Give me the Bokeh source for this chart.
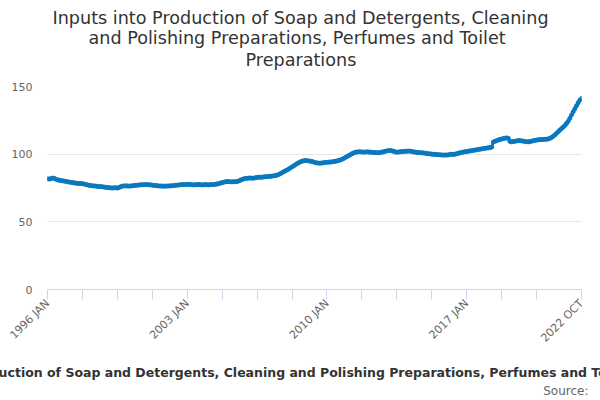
import math
from bokeh.plotting import figure
from bokeh.models import Range1d, FixedTicker, Title, ColumnDataSource
from bokeh.embed import file_html
from bokeh.resources import INLINE

title_lines = ["Inputs into Production of Soap and Detergents, Cleaning",
               "and Polishing Preparations, Perfumes and Toilet",
               "Preparations"]
caption = ("Inputs into Production of Soap and Detergents, Cleaning and Polishing "
           "Preparations, Perfumes and Toilet Preparations")
source_text = "Source:"

month_names = ["JAN", "FEB", "MAR", "APR", "MAY", "JUN",
               "JUL", "AUG", "SEP", "OCT", "NOV", "DEC"]
years = list(range(1996, 2023))

v1996 = [81.8, 81.6, 81.9, 82.3, 82.2, 81.5, 81.0, 80.8, 80.5, 80.3, 80.1, 79.9]
v1997 = [79.6, 79.4, 79.2, 79.0, 78.8, 78.6, 78.4, 78.3, 78.4, 78.2, 77.9, 77.6]
v1998 = [77.3, 77.0, 76.8, 76.6, 76.5, 76.4, 76.2, 76.1, 76.0, 75.9, 75.7, 75.5]
v1999 = [75.3, 75.2, 75.1, 75.0, 75.1, 75.2, 75.0, 75.3, 76.0, 76.4, 76.5, 76.6]
v2000 = [76.5, 76.4, 76.5, 76.6, 76.8, 77.0, 77.1, 77.2, 77.4, 77.3, 77.5, 77.4]
v2001 = [77.5, 77.4, 77.3, 77.1, 76.9, 76.8, 76.7, 76.5, 76.4, 76.5, 76.3, 76.4]
v2002 = [76.4, 76.5, 76.6, 76.7, 76.8, 77.0, 77.1, 77.2, 77.4, 77.6, 77.5, 77.6]
v2003 = [77.7, 77.6, 77.5, 77.4, 77.3, 77.4, 77.5, 77.6, 77.4, 77.3, 77.4, 77.5]
v2004 = [77.4, 77.3, 77.5, 77.6, 77.5, 77.7, 78.0, 78.3, 78.6, 79.0, 79.3, 79.6]
v2005 = [79.8, 79.7, 79.6, 79.5, 79.7, 79.6, 79.8, 80.2, 80.8, 81.3, 81.8, 82.0]
v2006 = [82.2, 82.3, 82.4, 82.2, 82.3, 82.6, 82.8, 83.0, 82.9, 83.0, 83.2, 83.3]
v2007 = [83.4, 83.5, 83.6, 83.8, 84.0, 84.2, 84.5, 85.0, 85.6, 86.3, 87.0, 87.7]
v2008 = [88.3, 89.0, 89.8, 90.6, 91.4, 92.2, 93.0, 93.7, 94.3, 94.8, 95.1, 95.3]
v2009 = [95.2, 95.0, 94.8, 94.6, 94.2, 93.8, 93.5, 93.4, 93.3, 93.5, 93.7, 93.9]
v2010 = [94.0, 94.1, 94.2, 94.3, 94.5, 94.7, 95.0, 95.3, 95.7, 96.2, 96.8, 97.5]
v2011 = [98.2, 98.9, 99.6, 100.3, 100.9, 101.4, 101.6, 101.7, 101.8, 101.6, 101.5, 101.6]
v2012 = [101.7, 101.6, 101.5, 101.4, 101.3, 101.2, 101.1, 101.0, 101.2, 101.5, 101.8, 102.1]
v2013 = [102.4, 102.6, 102.7, 102.5, 102.1, 101.7, 101.5, 101.6, 101.8, 101.9, 102.0, 102.1]
v2014 = [102.2, 102.3, 102.2, 102.0, 101.7, 101.5, 101.3, 101.2, 101.1, 101.0, 100.9, 100.7]
v2015 = [100.5, 100.3, 100.2, 100.0, 99.9, 99.8, 99.7, 99.6, 99.5, 99.4, 99.3, 99.4]
v2016 = [99.3, 99.5, 99.7, 99.9, 99.8, 100.0, 100.3, 100.7, 101.0, 101.3, 101.6, 101.8]
v2017 = [102.0, 102.2, 102.4, 102.6, 102.8, 103.0, 103.2, 103.5, 103.7, 103.9, 104.1, 104.3]
v2018 = [104.5, 104.7, 104.9, 105.2, 109.0, 109.5, 110.0, 110.5, 110.9, 111.2, 111.5, 111.8]
v2019 = [112.0, 111.7, 109.4, 109.1, 109.3, 109.5, 109.8, 110.1, 110.0, 109.8, 109.6, 109.4]
v2020 = [109.2, 109.1, 109.3, 109.6, 109.9, 110.2, 110.4, 110.6, 110.7, 110.8, 110.9, 111.0]
v2021 = [111.0, 111.3, 111.6, 112.4, 113.2, 114.2, 115.4, 116.6, 117.8, 118.9, 120.0, 121.2]
v2022 = [122.7, 124.3, 126.5, 129.0, 131.3, 133.5, 135.8, 138.0, 139.9, 141.1]

y_ticks = [0, 50, 100, 150]
tick_labels = ["1996 JAN", "2003 JAN", "2010 JAN", "2017 JAN", "2022 OCT"]

values = (v1996 + v1997 + v1998 + v1999 + v2000 + v2001 + v2002 + v2003 + v2004
          + v2005 + v2006 + v2007 + v2008 + v2009 + v2010 + v2011 + v2012 + v2013
          + v2014 + v2015 + v2016 + v2017 + v2018 + v2019 + v2020 + v2021 + v2022)
labels = [f"{y} {m}" for y in years for m in month_names][:len(values)]
xs = list(range(len(values)))
n = len(values)

W, H = 600, 400
p = figure(width=W, height=H, output_backend="svg", toolbar_location=None,
           x_range=Range1d(0, n - 1), y_range=Range1d(0, 150),
           min_border_left=47, min_border_right=19, min_border_top=0,
           min_border_bottom=0)
p.outline_line_color = None
p.background_fill_color = "white"
p.border_fill_color = "white"

src = ColumnDataSource(dict(x=xs, y=values, label=labels))
color = "#0a78be"
p.line("x", "y", source=src, line_color=color, line_width=3)
p.scatter("x", "y", source=src, size=4, color=color)

# x axis
ticks = list(range(0, n - 21, 21)) + [n - 1]
p.xaxis.ticker = FixedTicker(ticks=ticks)
p.xaxis.major_label_overrides = {t: (labels[t] if labels[t] in tick_labels else "")
                                 for t in ticks}
p.xaxis.major_label_orientation = math.pi / 4
p.xaxis.axis_line_color = "#ccd6eb"
p.xaxis.major_tick_line_color = "#ccd6eb"
p.xaxis.major_tick_out = 10
p.xaxis.major_tick_in = 0
p.xaxis.minor_tick_line_color = None
p.xaxis.major_label_text_color = "#666666"
p.xaxis.major_label_text_font = "DejaVu Sans"
p.xaxis.major_label_text_font_size = "11px"
p.xaxis.major_label_standoff = 2
p.xgrid.grid_line_color = None

# y axis
p.yaxis.ticker = FixedTicker(ticks=y_ticks)
p.yaxis.axis_line_color = None
p.yaxis.major_tick_line_color = None
p.yaxis.minor_tick_line_color = None
p.yaxis.major_label_text_color = "#666666"
p.yaxis.major_label_text_font = "DejaVu Sans"
p.yaxis.major_label_text_font_size = "11px"
p.yaxis.major_label_standoff = 9
p.ygrid.grid_line_color = "#e6e6e6"


def spacer(stand):
    return Title(text=" ", text_font_size="1px", text_line_height=1.0,
                 standoff=stand, text_color="white")


# above: nearest the frame first
p.add_layout(spacer(11.8), "above")
title_offsets = [5, 41, 198]
title_valign = ["bottom", "top", "top"]
for i in (2, 1, 0):
    p.add_layout(Title(text=title_lines[i], align="left", offset=title_offsets[i],
                       vertical_align=title_valign[i], standoff=0,
                       text_font="DejaVu Sans", text_font_size="17.6px",
                       text_font_style="normal", text_color="#333333"), "above")
p.add_layout(spacer(2.3), "above")

# below: after the x axis
p.add_layout(spacer(6.5), "below")
p.add_layout(Title(text=caption, align="left", offset=-163, standoff=0,
                   text_font="DejaVu Sans", text_font_size="12.5px",
                   text_font_style="bold", text_color="#333333"), "below")
p.add_layout(Title(text=source_text, align="right", offset=-7, standoff=4.5,
                   text_font="DejaVu Sans", text_font_size="12px",
                   text_font_style="normal", text_color="#666666"), "below")

open("out.html", "w").write(file_html(p, INLINE))
